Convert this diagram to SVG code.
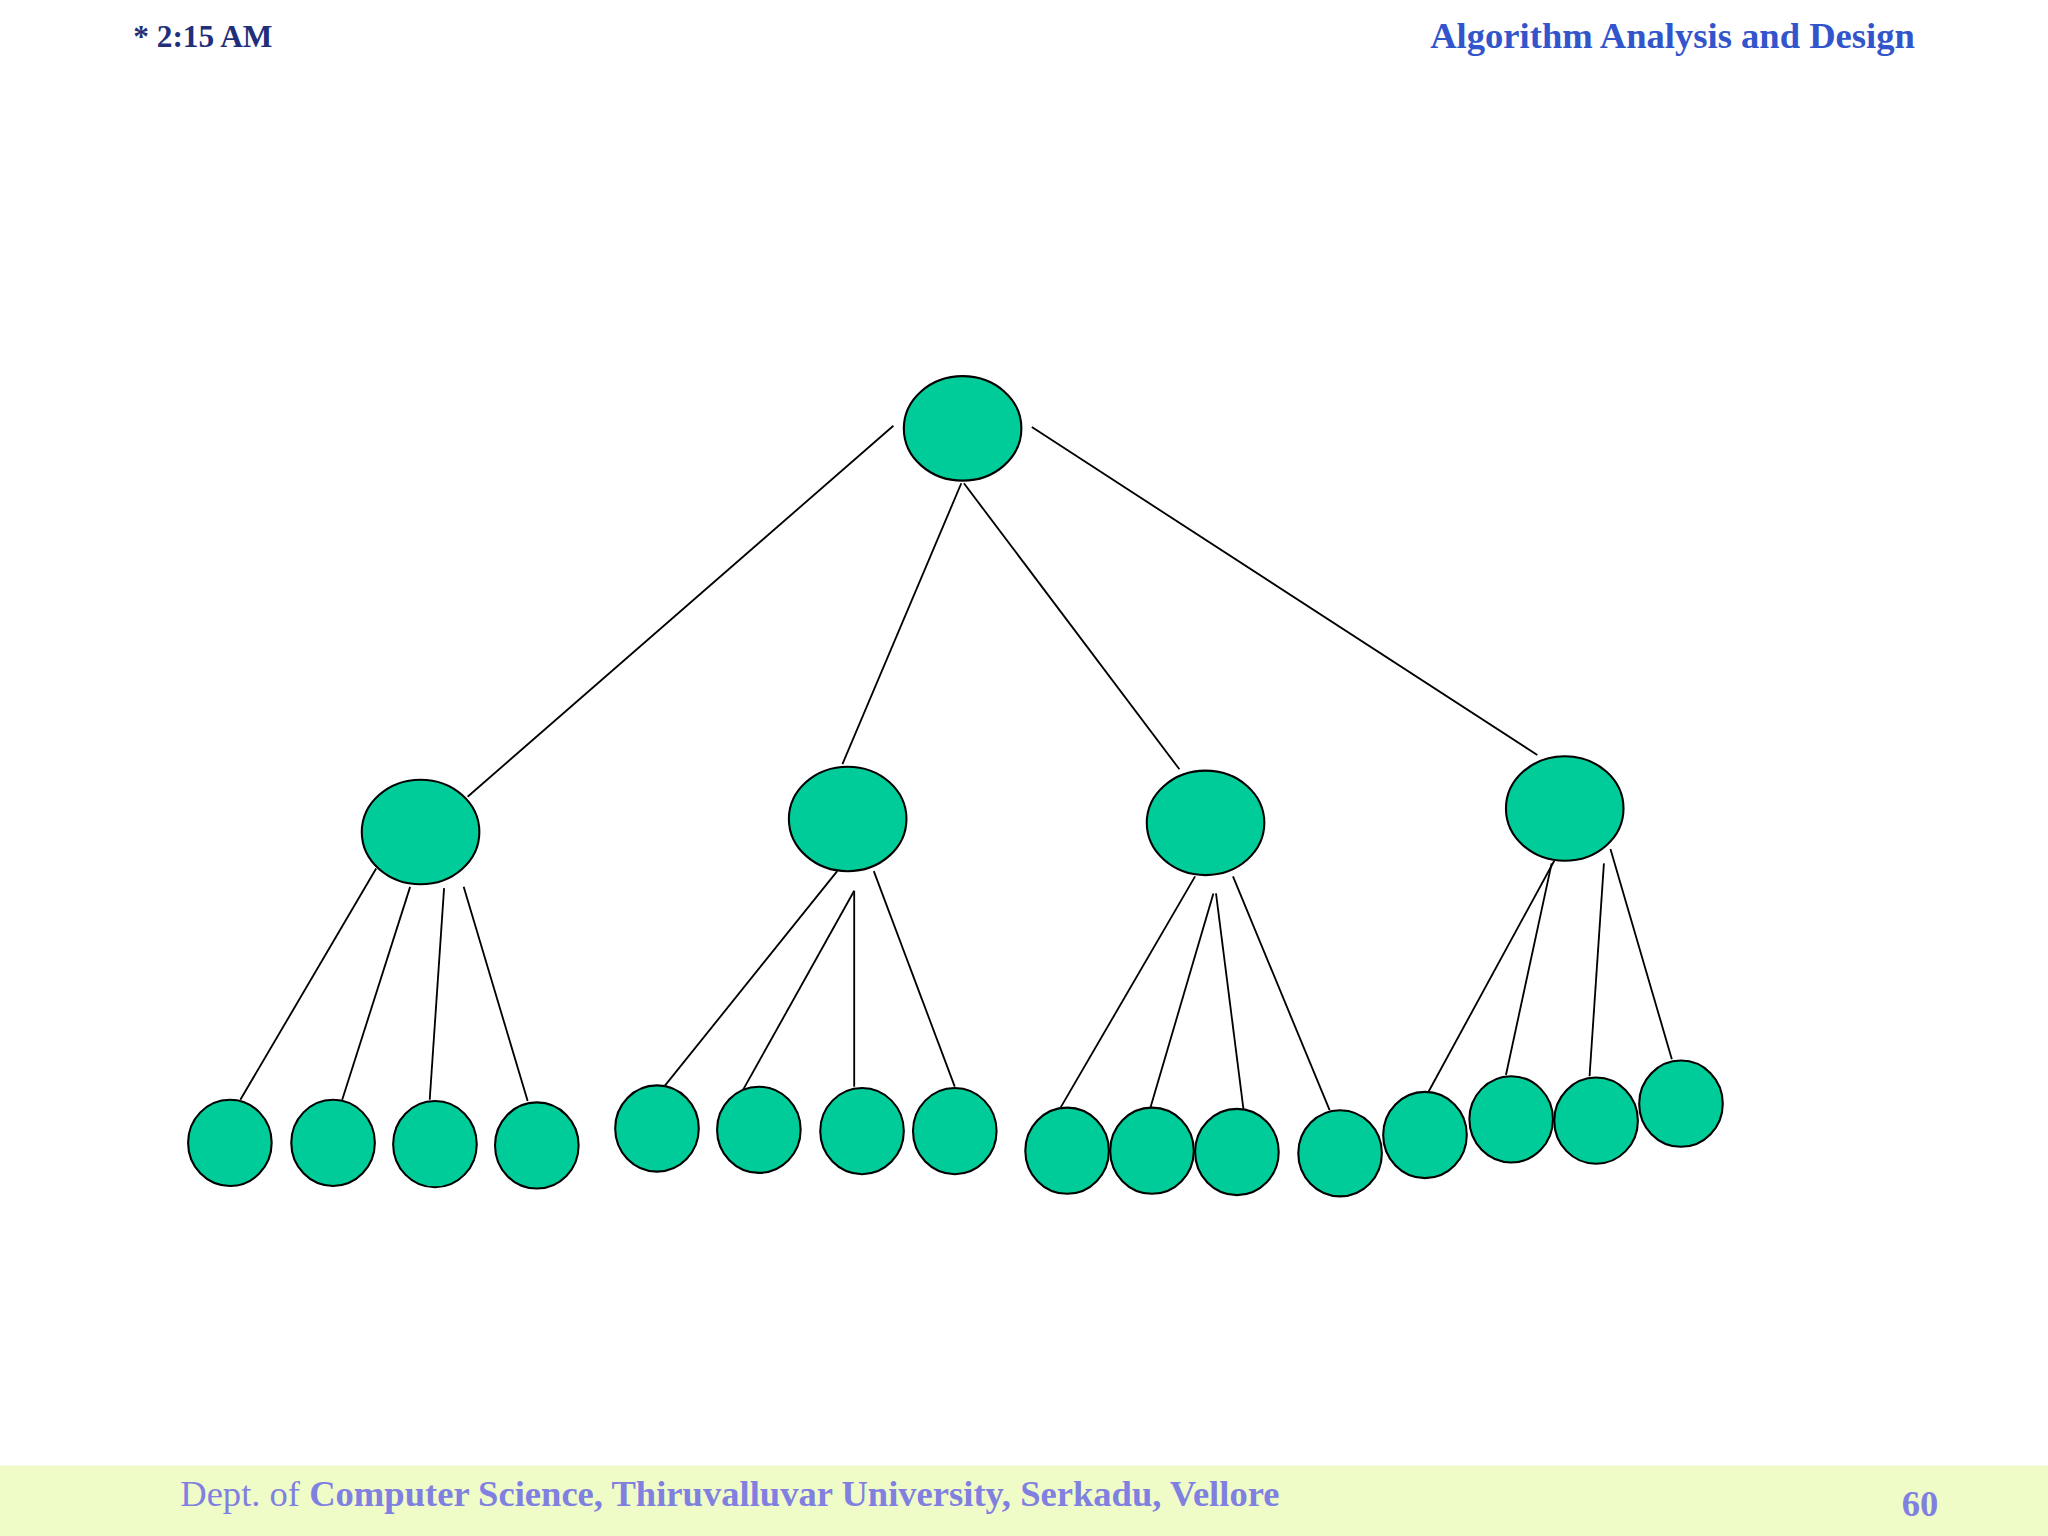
<svg xmlns="http://www.w3.org/2000/svg" width="2048" height="1536" viewBox="0 0 2048 1536">
<style>
.n{fill:#00cc99;stroke:#000;stroke-width:1.6}
.c line{stroke:#000;stroke-width:1.4}
.t{font-family:"Liberation Serif",serif;font-weight:bold}
</style>
<rect width="2048" height="1536" fill="#fff"/>
<g transform="scale(1.30612)">
<rect x="0" y="1122" width="1568" height="54" fill="#f0fcc8"/>
<text class="t" x="102" y="36" font-size="24" fill="#1f2f7a">*   2:15 AM</text>
<text class="t" x="1466" y="37" font-size="28" fill="#3355cc" text-anchor="end">Algorithm Analysis and Design</text>
<text x="138" y="1153" font-size="28" fill="#8080e0" font-family="Liberation Serif,serif">Dept. of <tspan font-weight="bold">Computer Science, Thiruvalluvar University, Serkadu, Vellore</tspan></text>
<text class="t" x="1484" y="1161" font-size="28" fill="#8080e0" text-anchor="end">60</text>
<g class="c" id="connectors">
<line x1="684" y1="326" x2="358" y2="610"/><line x1="736" y1="370" x2="645" y2="585"/><line x1="738" y1="370" x2="903" y2="589"/><line x1="790" y1="327" x2="1177" y2="578"/>
<line x1="288" y1="665" x2="184" y2="842"/><line x1="314" y1="679" x2="262" y2="842"/><line x1="340" y1="680" x2="329" y2="842"/><line x1="355" y1="679" x2="404" y2="843"/>
<line x1="641" y1="667" x2="498" y2="845"/><line x1="654" y1="682" x2="563" y2="845"/><line x1="654" y1="682" x2="654" y2="832"/><line x1="669" y1="667" x2="731" y2="832"/>
<line x1="915" y1="671" x2="812" y2="848"/><line x1="929" y1="684" x2="877" y2="861"/><line x1="931" y1="684" x2="952" y2="849"/><line x1="944" y1="671" x2="1018" y2="850"/>
<line x1="1190" y1="659" x2="1086" y2="850"/><line x1="1188" y1="661" x2="1153" y2="823"/><line x1="1228" y1="661" x2="1217" y2="824"/><line x1="1233" y1="650" x2="1280" y2="811"/>
</g>
<g id="root"><ellipse class="n" cx="737" cy="328" rx="45" ry="40"/></g>
<g id="a"><ellipse class="n" cx="322" cy="637" rx="45" ry="40"/></g>
<g id="b"><ellipse class="n" cx="649" cy="627" rx="45" ry="40"/></g>
<g id="c"><ellipse class="n" cx="923" cy="630" rx="45" ry="40"/></g>
<g id="d"><ellipse class="n" cx="1198" cy="619" rx="45" ry="40"/></g>
<g id="a1"><ellipse class="n" cx="176" cy="875" rx="32" ry="33"/></g>
<g id="a2"><ellipse class="n" cx="255" cy="875" rx="32" ry="33"/></g>
<g id="a3"><ellipse class="n" cx="333" cy="876" rx="32" ry="33"/></g>
<g id="a4"><ellipse class="n" cx="411" cy="877" rx="32" ry="33"/></g>
<g id="b1"><ellipse class="n" cx="503" cy="864" rx="32" ry="33"/></g>
<g id="b2"><ellipse class="n" cx="581" cy="865" rx="32" ry="33"/></g>
<g id="b3"><ellipse class="n" cx="660" cy="866" rx="32" ry="33"/></g>
<g id="b4"><ellipse class="n" cx="731" cy="866" rx="32" ry="33"/></g>
<g id="c1"><ellipse class="n" cx="817" cy="881" rx="32" ry="33"/></g>
<g id="c2"><ellipse class="n" cx="882" cy="881" rx="32" ry="33"/></g>
<g id="c3"><ellipse class="n" cx="947" cy="882" rx="32" ry="33"/></g>
<g id="c4"><ellipse class="n" cx="1026" cy="883" rx="32" ry="33"/></g>
<g id="d1"><ellipse class="n" cx="1091" cy="869" rx="32" ry="33"/></g>
<g id="d2"><ellipse class="n" cx="1157" cy="857" rx="32" ry="33"/></g>
<g id="d3"><ellipse class="n" cx="1222" cy="858" rx="32" ry="33"/></g>
<g id="d4"><ellipse class="n" cx="1287" cy="845" rx="32" ry="33"/></g>
</g>
</svg>
